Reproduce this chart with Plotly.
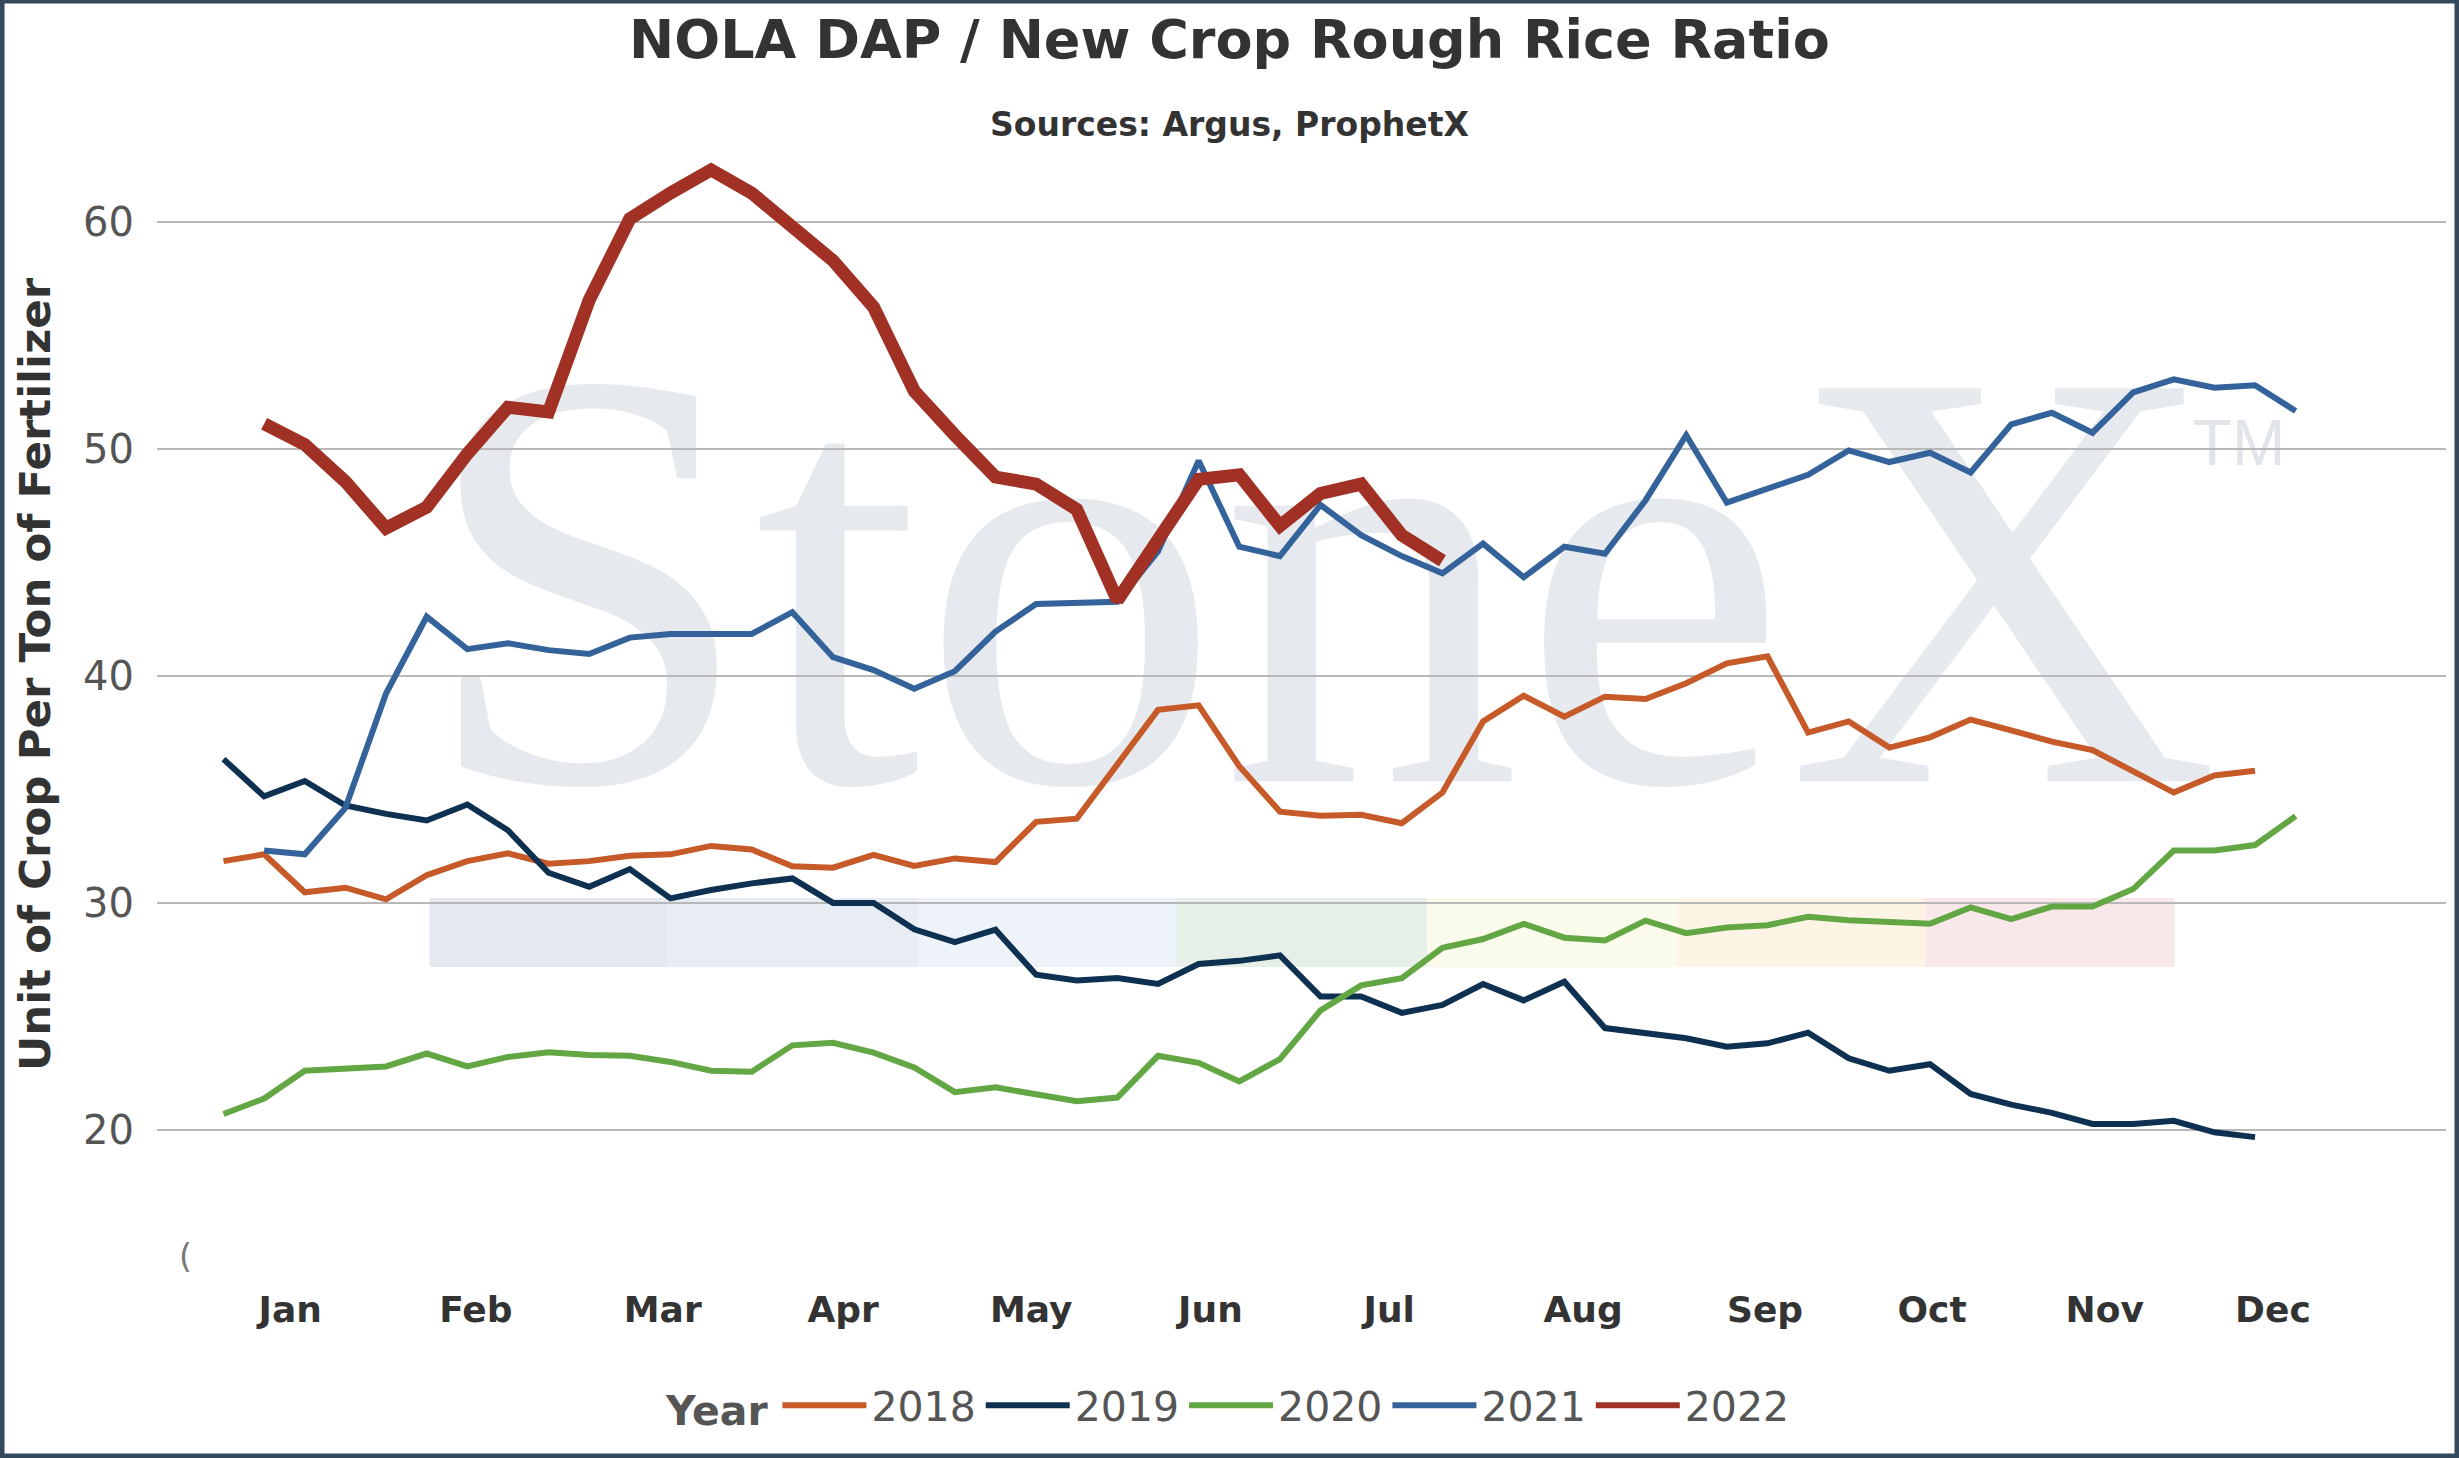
import plotly.graph_objects as go

print("Starting script...")

# Weekly observations, week 1..52 of each year
weeks = list(range(1, 53))

# Month labels on the x axis and the week they are centred on
month_labels = ["Jan", "Feb", "Mar", "Apr", "May", "Jun",
                "Jul", "Aug", "Sep", "Oct", "Nov", "Dec"]
month_weeks = [2.64, 7.21, 11.81, 16.25, 20.88, 25.29,
               29.69, 34.46, 38.94, 43.05, 47.30, 51.44]

years = ["2018", "2019", "2020", "2021", "2022"]

# Unit of crop per ton of fertilizer
ratio_2018 = [31.84, 32.14, 30.47, 30.67, 30.16, 31.22, 31.84, 32.18, 31.73, 31.84,
              32.08, 32.14, 32.51, 32.35, 31.61, 31.55, 32.12, 31.63, 31.96, 31.80,
              33.57, 33.71, 36.10, 38.50, 38.70, 36.02, 34.02, 33.84, 33.88, 33.51,
              34.86, 37.99, 39.12, 38.20, 39.08, 38.98, 39.67, 40.55, 40.86, 37.50,
              37.99, 36.84, 37.29, 38.07, 37.60, 37.10, 36.73, 35.80, 34.86, 35.61,
              35.82, None]

ratio_2019 = [36.33, 34.69, 35.37, 34.29, 33.92, 33.63, 34.33, 33.20, 31.33, 30.71,
              31.49, 30.20, 30.57, 30.86, 31.08, 30.00, 30.00, 28.84, 28.27, 28.82,
              26.84, 26.59, 26.69, 26.43, 27.31, 27.45, 27.69, 25.88, 25.88, 25.16,
              25.51, 26.43, 25.71, 26.53, 24.49, 24.24, 24.04, 23.67, 23.82, 24.29,
              23.16, 22.61, 22.90, 21.59, 21.12, 20.76, 20.27, 20.27, 20.41, 19.90,
              19.69, None]

ratio_2020 = [20.71, 21.39, 22.61, 22.71, 22.80, 23.37, 22.80, 23.22, 23.43, 23.31,
              23.27, 23.00, 22.61, 22.57, 23.73, 23.84, 23.41, 22.76, 21.67, 21.88,
              21.59, 21.27, 21.43, 23.27, 22.96, 22.14, 23.12, 25.27, 26.37, 26.69,
              28.02, 28.41, 29.08, 28.47, 28.35, 29.22, 28.67, 28.92, 29.02, 29.39,
              29.24, 29.14, 29.08, 29.80, 29.29, 29.84, 29.84, 30.61, 32.31, 32.31,
              32.55, 33.82]

ratio_2021 = [None, 32.31, 32.14, 34.18, 39.22, 42.60, 41.17, 41.43, 41.13, 40.96,
              41.68, 41.84, 41.84, 41.84, 42.80, 40.82, 40.25, 39.43, 40.20, 41.95,
              43.16, 43.22, 43.26, 45.47, 49.47, 45.68, 45.27, 47.52, 46.19, 45.27,
              44.51, 45.82, 44.34, 45.68, 45.37, 47.73, 50.59, 47.62, 48.24, 48.85,
              49.92, 49.41, 49.82, 48.95, 51.07, 51.58, 50.70, 52.48, 53.05, 52.68,
              52.79, 51.66]

ratio_2022 = [None, 51.10, 50.18, 48.55, 46.50, 47.42, 49.77, 51.82, 51.62, 56.54,
              60.12, 61.25, 62.27, 61.25, 59.82, 58.28, 56.23, 52.54, 50.59, 48.75,
              48.44, 47.32, 43.32, 45.88, 48.65, 48.85, 46.60, 48.03, 48.44, 46.19,
              45.06, None, None, None, None, None, None, None, None, None,
              None, None, None, None, None, None, None, None, None, None,
              None, None]

series = [ratio_2018, ratio_2019, ratio_2020, ratio_2021, ratio_2022]
colors = ["#C65A29", "#0E3152", "#63A744", "#33639A", "#A03124"]
widths = [6, 6, 6, 6, 13]

# watermark colour bar (StoneX logo strip), faded
band_colors = ["#E5E8EE", "#E8EDF4", "#EEF3F9", "#E6F0E9", "#FBFBEC", "#FDF4E6", "#F8E8E9"]
band_edges = [0.1191, 0.2227, 0.3327, 0.4452, 0.5548, 0.6644, 0.7726, 0.8815]

fig = go.Figure()

for name, vals, col, w in zip(years, series, colors, widths):
    # legend keys are all drawn with the same thin stroke
    fig.add_trace(go.Scatter(
        x=weeks,
        y=vals,
        name=name,
        mode="lines",
        line=dict(color=col, width=w),
        connectgaps=False,
        legendgroup=name,
        showlegend=(w <= 6),
    ))
    if w > 6:
        fig.add_trace(go.Scatter(
            x=[None], y=[None], name=name, mode="lines",
            line=dict(color=col, width=6), legendgroup=name,
        ))
print("Traces added.")

shapes = []
for k, c in enumerate(band_colors):
    shapes.append(dict(type="rect", xref="paper", yref="paper", layer="below",
                       x0=band_edges[k], x1=band_edges[k + 1], y0=0.2588, y1=0.3208,
                       fillcolor=c, line=dict(width=0)))

# big StoneX watermark behind the lines
shapes.append(dict(type="rect", xref="paper", yref="paper", layer="below",
                   x0=0.0164, x1=1.0, y0=0.366, y1=0.966,
                   fillcolor="rgba(0,0,0,0)", line=dict(width=0),
                   label=dict(text="StoneX", textposition="middle center",
                              font=dict(family="Liberation Serif", size=600,
                                        color="#E6E9EE"))))
shapes.append(dict(type="rect", xref="paper", yref="paper", layer="below",
                   x0=0.8696, x1=0.9496, y0=0.695, y1=0.775,
                   fillcolor="rgba(0,0,0,0)", line=dict(width=0),
                   label=dict(text="TM", textposition="middle center",
                              font=dict(family="Liberation Sans", size=64,
                                        color="#E1E5EA"))))

# dark frame round the whole picture
shapes.append(dict(type="rect", xref="paper", yref="paper", layer="above",
                   x0=-0.0677, x1=1.0048, y0=-0.1806, y1=1.1267,
                   fillcolor="rgba(0,0,0,0)", line=dict(color="#34495B", width=5)))

fig.update_layout(
    width=2459,
    height=1458,
    paper_bgcolor="white",
    plot_bgcolor="white",
    margin=dict(l=157, r=13, t=142, b=203),
    title=dict(text="NOLA DAP / New Crop Rough Rice Ratio", x=0.5, xanchor="center",
               xref="container", y=0.973, yanchor="middle", yref="container",
               font=dict(family="DejaVu Sans", size=54, color="#333333", weight="bold")),
    font=dict(family="DejaVu Sans", color="#555555"),
    showlegend=True,
    legend=dict(orientation="h", xref="container", x=0.5, xanchor="center",
                yref="container", y=0.036, yanchor="middle",
                title=dict(text="Year", font=dict(size=41, color="#555555", weight="bold")),
                font=dict(size=41, color="#555555"), itemwidth=84),
    shapes=shapes,
    annotations=[
        dict(text="Sources: Argus, ProphetX", xref="paper", yref="paper",
             x=0.4685, y=1.0153, showarrow=False, xanchor="center", yanchor="middle",
             font=dict(family="DejaVu Sans", size=33, color="#333333", weight="bold")),
        dict(text="Unit of Crop Per Ton of Fertilizer", xref="paper", yref="paper",
             x=-0.0533, y=0.522, showarrow=False, textangle=-90,
             xanchor="center", yanchor="middle",
             font=dict(family="DejaVu Sans", size=43.5, color="#333333", weight="bold")),
        dict(text="(", xref="paper", yref="paper", x=0.0087, y=-0.0207,
             showarrow=False, font=dict(family="DejaVu Sans", size=33, color="#777777")),
    ],
)

fig.update_xaxes(
    range=[-0.637, 55.70],
    tickmode="array",
    tickvals=month_weeks,
    ticktext=month_labels,
    showgrid=False,
    zeroline=False,
    showline=False,
    ticks="",
    ticklabelstandoff=30,
    tickfont=dict(family="DejaVu Sans", size=36, color="#333333", weight="bold"),
)

fig.update_yaxes(
    range=[14.5, 63.5],
    tickmode="array",
    tickvals=[20, 30, 40, 50, 60],
    showgrid=True,
    gridcolor="#B8B8B8",
    gridwidth=2,
    zeroline=False,
    showline=False,
    ticks="",
    ticklabelstandoff=22,
    tickfont=dict(family="DejaVu Sans", size=40, color="#555555"),
)
print("Layout updated.")

# drop the default page margin so the figure sits at the window corner
fig.write_html("out.html", config={"displayModeBar": False},
               post_script="document.body.style.margin='0px';")
print("HTML file saved as 'out.html'.")
